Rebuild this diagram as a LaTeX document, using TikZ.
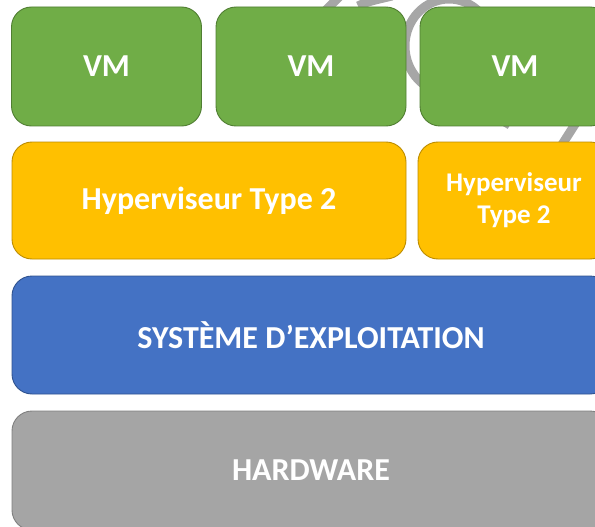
\documentclass[tikz,border=0pt]{standalone}
\usepackage{fontspec}
\setmainfont{Carlito}
\definecolor{vmgreen}{HTML}{70AD47}
\definecolor{vmgreenedge}{HTML}{507E32}
\definecolor{hvyellow}{HTML}{FFC000}
\definecolor{hvyellowedge}{HTML}{BC8C00}
\definecolor{osblue}{HTML}{4472C4}
\definecolor{osblueedge}{HTML}{2F528F}
\definecolor{hwgray}{HTML}{A5A5A5}
\definecolor{hwgrayedge}{HTML}{7F7F7F}
\definecolor{decogray}{HTML}{A6A6A6}
\begin{document}
\begin{tikzpicture}[x=1pt,y=-1pt,
  layer/.style={rounded corners=20pt, inner sep=0pt, line width=0.9pt,
    text=white, font=\bfseries\fontsize{32}{38}\selectfont, align=center},
  vmbox/.style={layer, fill=vmgreen, draw=vmgreenedge,
    minimum width=190pt, minimum height=119pt},
  hvbox/.style={layer, fill=hvyellow, draw=hvyellowedge, minimum height=117pt},
  osbox/.style={layer, fill=osblue, draw=osblueedge,
    minimum width=598pt, minimum height=118pt},
  hwbox/.style={layer, fill=hwgray, draw=hwgrayedge,
    minimum width=598pt, minimum height=119pt},
  deco/.style={draw=decogray, line width=9pt}
]
\useasboundingbox (0,0) rectangle (595,527);
\clip (0,0) rectangle (595,527);

% background cycle strokes, mostly hidden behind the layers
\draw[deco] (449,46) circle[x radius=44pt, y radius=47pt];
\draw[deco] (320,16) -- (342,-6);
\draw[deco] (358,6) .. controls (368,1) and (380,-1) .. (392,-4);
\draw[deco] (498,118) -- (510,125);
\draw[deco] (556,154) -- (595,93);

% virtual machines
\node[vmbox] (vm1) at (106.5,66.5) {VM};
\node[vmbox] (vm2) at (311,66.5) {VM};
\node[vmbox] (vm3) at (515,66.5) {VM};

% hypervisors
\node[hvbox, minimum width=394pt] (hv1) at (209,200.5) {Hyperviseur Type 2};
\node[hvbox, minimum width=192pt,
  font=\bfseries\fontsize{27}{32}\selectfont] (hv2) at (514,200.5)
  {Hyperviseur\\Type 2};

% operating system
\node[osbox] (os) at (311,335) {SYSTÈME D’EXPLOITATION};

% hardware
\node[hwbox] (hw) at (311,470.5) {HARDWARE};
\end{tikzpicture}
\end{document}
